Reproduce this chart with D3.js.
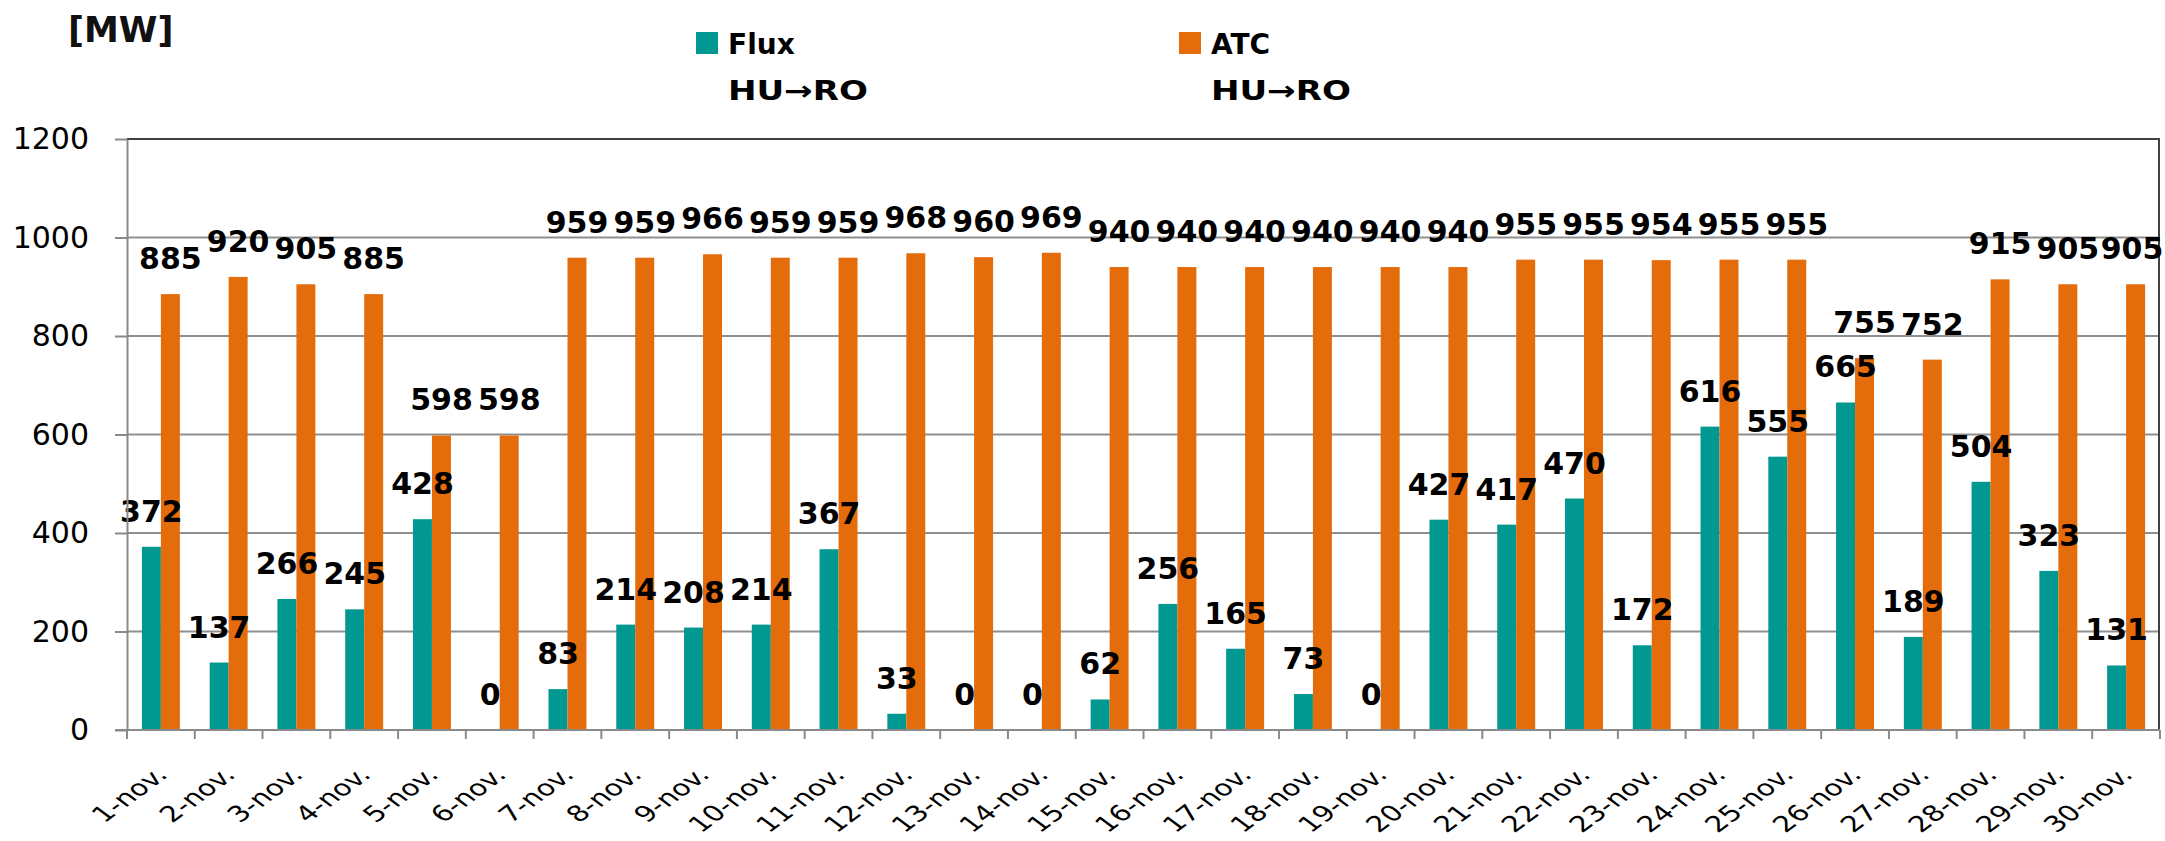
<!DOCTYPE html>
<html><head><meta charset="utf-8">
<script src="https://cdn.jsdelivr.net/npm/d3@7"></script>
<style>body{margin:0;background:#fff} svg{display:block}</style>
</head><body>
<svg id="chart" width="2165" height="841"></svg>
<script>
const days = ["1-nov.","2-nov.","3-nov.","4-nov.","5-nov.","6-nov.","7-nov.","8-nov.","9-nov.","10-nov.",
  "11-nov.","12-nov.","13-nov.","14-nov.","15-nov.","16-nov.","17-nov.","18-nov.","19-nov.","20-nov.",
  "21-nov.","22-nov.","23-nov.","24-nov.","25-nov.","26-nov.","27-nov.","28-nov.","29-nov.","30-nov."];
const fluxValues = [372,137,266,245,428,0,83,214,208,214,367,33,0,0,62,256,165,73,0,427,417,470,172,616,555,665,189,504,323,131];
const atcValues = [885,920,905,885,598,598,959,959,966,959,959,968,960,969,940,940,940,940,940,940,955,955,954,955,955,755,752,915,905,905];
const yTicks = [0,200,400,600,800,1000,1200];
const seriesKeys = ["flux","atc"];
const seriesNames = ["Flux","ATC"];
const seriesSub = ["HU\u2192RO","HU\u2192RO"];
const colors = ["#009891","#e46c0a"];
const unitLabel = "[MW]";

const W = 2165, H = 841;
const m = {top:139, right:5, bottom:111, left:127};
const svg = d3.select("#chart");
const FONT = "'DejaVu Sans', Verdana, sans-serif";

const x = d3.scaleBand().domain(days).range([m.left, W - m.right]).paddingInner(0.44).paddingOuter(0.22);
const xs = d3.scaleBand().domain(seriesKeys).range([0, x.bandwidth()]);
const y = d3.scaleLinear().domain([0, 1200]).range([H - m.bottom, m.top]);
const color = d3.scaleOrdinal().domain(seriesKeys).range(colors);

const rows = days.map((d, i) => ({day: d, flux: fluxValues[i], atc: atcValues[i]}));

// gridlines
svg.append("g").selectAll("line").data(yTicks.filter(t => t > 0 && t < 1200)).join("line")
  .attr("x1", m.left).attr("x2", W - m.right)
  .attr("y1", d => y(d)).attr("y2", d => y(d))
  .attr("stroke", "#8f8f8f").attr("stroke-width", 2);

// plot border (top + right)
svg.append("path")
  .attr("d", `M${m.left},${y(1200)}H${W - m.right - 1}V${y(0)}`)
  .attr("fill", "none").attr("stroke", "#404040").attr("stroke-width", 2);

// bars
const groups = svg.append("g").selectAll("g").data(rows).join("g")
  .attr("transform", d => `translate(${x(d.day)},0)`);
groups.selectAll("rect").data(d => seriesKeys.map(k => ({key: k, value: d[k]}))).join("rect")
  .attr("x", d => xs(d.key)).attr("width", xs.bandwidth())
  .attr("y", d => y(d.value)).attr("height", d => y(0) - y(d.value))
  .attr("fill", d => color(d.key));

// y axis
const yAxis = svg.append("g").attr("transform", `translate(${m.left},0)`)
  .call(d3.axisLeft(y).tickValues(yTicks).tickSize(12).tickSizeOuter(0).tickPadding(26).tickFormat(d3.format("d")));
yAxis.select(".domain").attr("stroke", "#8a8a8a").attr("stroke-width", 2);
yAxis.selectAll(".tick line").attr("stroke", "#8a8a8a").attr("stroke-width", 2);
yAxis.selectAll(".tick text").attr("font-family", FONT).attr("font-size", 30).attr("fill", "#000");

// x axis
const xAxis = svg.append("g").attr("transform", `translate(0,${y(0)})`)
  .call(d3.axisBottom(x).tickSize(0).tickFormat(""));
xAxis.select(".domain").attr("stroke", "#8a8a8a").attr("stroke-width", 2)
  .attr("d", `M${m.left - 12},0H${W - m.right}`);
const boundaries = d3.range(days.length + 1).map(i => m.left + i * x.step());
xAxis.append("g").selectAll("line").data(boundaries).join("line")
  .attr("x1", d => d).attr("x2", d => d).attr("y1", 0).attr("y2", 9)
  .attr("stroke", "#8a8a8a").attr("stroke-width", 2);
xAxis.append("g").selectAll("text").data(days).join("text")
  .attr("transform", d => `translate(${x(d) + x.bandwidth() / 2 + 8},46) scale(1.35,1) rotate(-45)`)
  .attr("text-anchor", "end")
  .attr("font-family", FONT).attr("font-size", 22).attr("fill", "#000")
  .text(d => d);

// value labels (kept inside the picture at the right edge)
groups.selectAll("text").data(d => seriesKeys.map(k => ({key: k, value: d[k], day: d.day}))).join("text")
  .attr("x", d => Math.min(xs(d.key) + xs.bandwidth() / 2, W - 33 - x(d.day)))
  .attr("y", d => y(d.value) - 25)
  .attr("text-anchor", "middle")
  .attr("font-family", FONT).attr("font-weight", "bold").attr("font-size", 30).attr("fill", "#000")
  .text(d => d.value);

// unit label
svg.append("text").attr("x", 68).attr("y", 42)
  .attr("font-family", FONT).attr("font-weight", "bold").attr("font-size", 35).attr("fill", "#111")
  .text(unitLabel);

// legend
const legendX = [696, 1179];
const lg = svg.append("g").selectAll("g").data(seriesKeys).join("g")
  .attr("transform", (d, i) => `translate(${legendX[i]},0)`);
lg.append("rect").attr("x", 0).attr("y", 32).attr("width", 22).attr("height", 22).attr("fill", d => color(d));
lg.append("text").attr("x", 32).attr("y", 54)
  .attr("font-family", FONT).attr("font-weight", "bold").attr("font-size", 28).attr("fill", "#000")
  .text((d, i) => seriesNames[i]);
lg.append("text").attr("x", 32).attr("y", 100)
  .attr("font-family", FONT).attr("font-weight", "bold").attr("font-size", 27).attr("fill", "#000")
  .attr("textLength", 140).attr("lengthAdjust", "spacingAndGlyphs")
  .text((d, i) => seriesSub[i]);
</script>
</body></html>
